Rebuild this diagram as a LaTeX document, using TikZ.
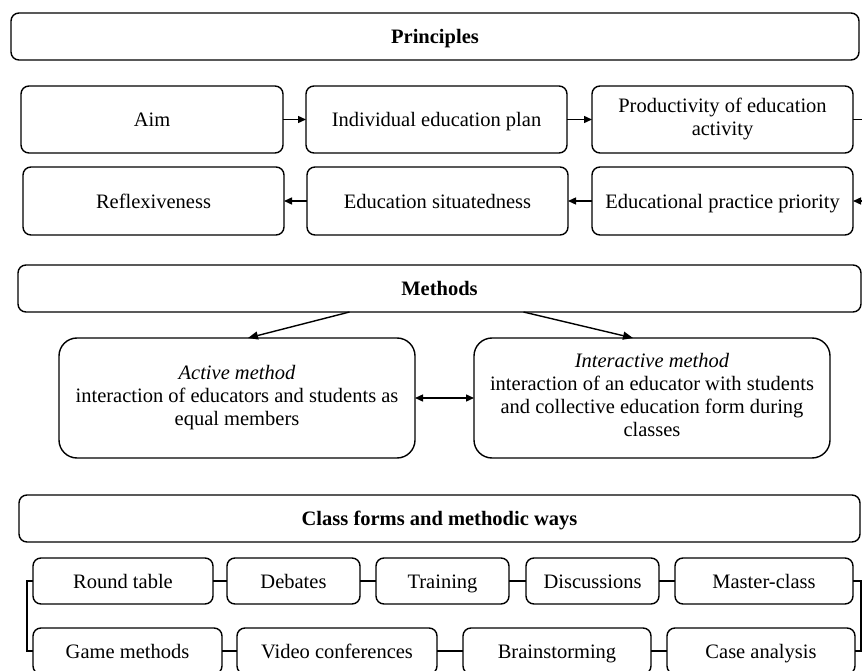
\documentclass[tikz,border=0pt]{standalone}
\usepackage{fontspec}
\setmainfont{Liberation Serif}
\usetikzlibrary{arrows.meta, positioning}
\tikzset{
		box/.style={draw, rounded corners=8pt, line width=1.4pt, outer sep=0pt, inner sep=2pt,
			align=center, font=\fontsize{20.5}{23}\selectfont,
			execute at begin node={\rule{0pt}{20pt}}, execute at end node={\rule[-5.5pt]{0pt}{5.5pt}}},
		head box/.style={box, minimum height=47pt, font=\fontsize{20.5}{23}\selectfont\bfseries},
		principle box/.style={box, minimum width=261pt, minimum height=67pt},
		method box/.style={box, rounded corners=18pt, minimum width=356pt, minimum height=120pt},
		form box/.style={box, minimum height=46pt}
	}

\begin{document}
\begin{tikzpicture}[x=1pt, y=-1pt, >={Triangle[length=8pt, width=7pt]}, line width=1.4pt]
				\useasboundingbox (0,0) rectangle (862,671);

				\node[head box, minimum width=848pt] (principles) at (435,36.5) {Principles};

				\node[principle box, minimum width=262pt] (aim)  at (152,119.5)        {Aim};
				\node[principle box]                      (plan) [right=23pt of aim]  {Individual education plan};
				\node[principle box]                      (prod) [right=25pt of plan] {Productivity of education\\activity};
				\node[principle box, minimum height=68pt] (refl) at (153.5,201)        {Reflexiveness};
				\node[principle box, minimum height=68pt] (situ) [right=23pt of refl] {Education situatedness};
				\node[principle box, minimum height=68pt] (prio) [right=24pt of situ] {Educational practice priority};

				\path[->](aim)  edge (plan);
				\path[->](plan) edge (prod);
				\path[->](situ) edge (refl);
				\path[->](prio) edge (situ);
				\draw[->] (prod.east) -- ++(16,0) |- (prio.east);

				\node[head box, minimum width=843pt] (methods) at (439.5,288.5) {Methods};
				\node[method box] (active)      at (237,398)              {\textit{Active method}\\interaction of educators and students as\\equal members};
				\node[method box] (interactive) [right=59pt of active]  {\textit{Interactive method}\\interaction of an educator with students\\and collective education form during\\classes};

				\draw[->, >={Triangle[length=10pt, width=8pt]}] ([xshift=-90pt]methods.south) -- ([xshift=11pt]active.north);
				\draw[->, >={Triangle[length=10pt, width=8pt]}] ([xshift=84pt]methods.south)  -- ([xshift=-19pt]interactive.north);
				\path[<->](active) edge (interactive);

				\node[head box, minimum width=841pt] (forms) at (439.5,518.5) {Class forms and methodic ways};

				\node[form box, minimum width=180pt] (round)    at (123,581)                {Round table};
				\node[form box, minimum width=133pt] (debates)  [right=14pt of round]     {Debates};
				\node[form box, minimum width=133pt] (training) [right=16pt of debates]   {Training};
				\node[form box, minimum width=133pt] (discuss)  [right=17pt of training]  {Discussions};
				\node[form box, minimum width=178pt] (master)   [right=16pt of discuss]   {Master-class};
				\node[form box, minimum width=189pt] (game)     at (127.5,651)              {Game methods};
				\node[form box, minimum width=200pt] (video)    [right=15pt of game]      {Video conferences};
				\node[form box, minimum width=188pt] (brain)    [right=26pt of video]     {Brainstorming};
				\node[form box, minimum width=188pt] (cases)    [right=16pt of brain]     {Case analysis};

				\path (round)   edge (debates);
				\path (debates) edge (training);
				\path (training) edge (discuss);
				\path (discuss) edge (master);
				\path (game)    edge (video);
				\path (video)   edge (brain);
				\path (brain)   edge (cases);
				\draw (round.west) -- ++(-6,0) |- (game.west);
				\draw (master.east) -- ++(8,0) |- (cases.east);
			\end{tikzpicture}
\end{document}
